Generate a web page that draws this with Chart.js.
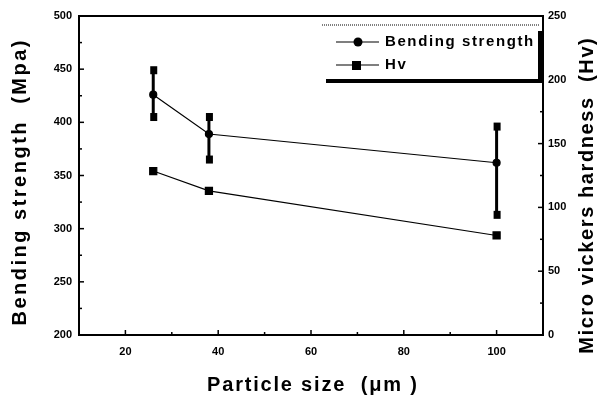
<!DOCTYPE html>
<html>
<head>
<meta charset="utf-8">
<script src="https://cdn.jsdelivr.net/npm/chart.js@4"></script>
<style>
  html, body { margin: 0; padding: 0; background: #fff; }
  #wrap { width: 597px; height: 401px; }
</style>
</head>
<body>
<div id="wrap"><canvas id="chart" width="597" height="401"></canvas></div>
<script>
// data
const particleSizes = [26, 38, 100];
const bendingStrength = [426, 389, 362];
const bendingHigh = [449, 405, 396];
const bendingLow = [405, 365, 313];
const hardnessHv = [128.5, 113, 78];

const xTicks = [20, 40, 60, 80, 100];
const yTicks = [200, 250, 300, 350, 400, 450, 500];
const y1Ticks = [0, 50, 100, 150, 200, 250];

const tickFont = { family: 'Liberation Sans', size: 11, weight: 'bold' };
const titleFont = 'bold 20px "Liberation Sans", Arial, sans-serif';

// draw text with extra letter spacing, centred on (cx, cy)
function spacedText(ctx, text, cx, cy, spacing) {
    ctx.letterSpacing = spacing + 'px';
    const w = ctx.measureText(text).width - spacing;
    ctx.textAlign = 'left';
    ctx.fillText(text, cx - w / 2, cy);
    ctx.letterSpacing = '0px';
}

// error bars, frame, inward ticks, legend and axis titles
const extras = {
    id: 'extras',
    afterDatasetsDraw(chart) {
        const ctx = chart.ctx;
        const x = chart.scales.x, y = chart.scales.y, y1 = chart.scales.y1;
        const a = chart.chartArea;
        ctx.save();
        ctx.fillStyle = '#000';
        ctx.strokeStyle = '#000';

        // error bars
        ctx.lineWidth = 3;
        particleSizes.forEach((s, i) => {
            const px = x.getPixelForValue(s);
            const top = y.getPixelForValue(bendingHigh[i]);
            const bot = y.getPixelForValue(bendingLow[i]);
            ctx.beginPath();
            ctx.moveTo(px, top);
            ctx.lineTo(px, bot);
            ctx.stroke();
            ctx.fillRect(px - 3, top - 4, 7, 8);
            ctx.fillRect(px - 3, bot - 4, 7, 8);
        });

        // top frame line
        ctx.lineWidth = 2;
        ctx.beginPath();
        ctx.moveTo(a.left, a.top);
        ctx.lineTo(a.right, a.top);
        ctx.stroke();

        // inward ticks
        ctx.lineWidth = 1.5;
        for (let v = 200; v <= 500; v += 25) {
            const py = y.getPixelForValue(v);
            const len = v % 50 === 0 ? 5 : 3;
            ctx.beginPath(); ctx.moveTo(a.left, py); ctx.lineTo(a.left + len, py); ctx.stroke();
        }
        for (let v = 0; v <= 250; v += 25) {
            const py = y1.getPixelForValue(v);
            const len = v % 50 === 0 ? 5 : 3;
            ctx.beginPath(); ctx.moveTo(a.right, py); ctx.lineTo(a.right - len, py); ctx.stroke();
        }
        for (let v = 20; v <= 100; v += 10) {
            const px = x.getPixelForValue(v);
            const len = v % 20 === 0 ? 5 : 3;
            ctx.beginPath(); ctx.moveTo(px, a.bottom); ctx.lineTo(px, a.bottom - len); ctx.stroke();
        }

        // legend box
        const lx = 322, ly = 25, lw = 218, lh = 56;
        ctx.lineWidth = 1;
        ctx.setLineDash([1, 1]);
        ctx.beginPath(); ctx.moveTo(lx, ly); ctx.lineTo(lx + lw, ly); ctx.stroke();
        ctx.setLineDash([]);
        ctx.lineWidth = 4;
        ctx.beginPath();
        ctx.moveTo(lx + 4, ly + lh);
        ctx.lineTo(lx + lw, ly + lh);
        ctx.lineTo(lx + lw, ly + 6);
        ctx.stroke();

        ctx.font = 'bold 15px "Liberation Sans", Arial, sans-serif';
        ctx.textBaseline = 'middle';
        ctx.textAlign = 'left';
        chart.data.datasets.forEach((ds, i) => {
            const ey = 42 + i * 23;
            ctx.lineWidth = 1.2;
            ctx.beginPath(); ctx.moveTo(336, ey); ctx.lineTo(379, ey); ctx.stroke();
            if (ds.pointStyle === 'rect') {
                ctx.fillRect(352, ey - 4, 9, 9);
            } else {
                ctx.beginPath(); ctx.arc(358, ey, 4.5, 0, Math.PI * 2); ctx.fill();
            }
            ctx.letterSpacing = '1.6px';
            ctx.fillText(ds.label, 385, ey);
            ctx.letterSpacing = '0px';
        });

        // axis titles
        ctx.font = titleFont;
        spacedText(ctx, 'Particle size  (\u03bcm )', 312, 385, 1.8);
        ctx.save();
        ctx.translate(20, 183);
        ctx.rotate(-Math.PI / 2);
        spacedText(ctx, 'Bending strength  (Mpa)', 0, 0, 2.5);
        ctx.restore();
        ctx.save();
        ctx.translate(587, 196);
        ctx.rotate(-Math.PI / 2);
        spacedText(ctx, 'Micro vickers hardness  (Hv)', 0, 0, 1.6);
        ctx.restore();

        ctx.restore();
    }
};

const chart = new Chart(document.getElementById('chart'), {
    type: 'line',
    data: {
        datasets: [{
            label: 'Bending strength',
            data: particleSizes.map((s, i) => ({ x: s, y: bendingStrength[i] })),
            yAxisID: 'y',
            borderColor: '#000',
            backgroundColor: '#000',
            borderWidth: 1.2,
            pointStyle: 'circle',
            pointRadius: 3.5,
            tension: 0
        }, {
            label: 'Hv',
            data: particleSizes.map((s, i) => ({ x: s, y: hardnessHv[i] })),
            yAxisID: 'y1',
            borderColor: '#000',
            backgroundColor: '#000',
            borderWidth: 1.2,
            pointStyle: 'rect',
            pointRadius: 5,
            tension: 0
        }]
    },
    options: {
        responsive: false,
        animation: false,
        layout: { padding: { top: 16, left: 0, right: 0, bottom: 0 } },
        plugins: { legend: { display: false }, tooltip: { enabled: false } },
        scales: {
            x: {
                type: 'linear',
                min: 10,
                max: 110,
                afterBuildTicks: s => { s.ticks = xTicks.map(v => ({ value: v })); },
                afterFit: s => { s.height = 66; },
                grid: { display: false, drawTicks: false },
                border: { display: true, color: '#000', width: 2 },
                ticks: { color: '#000', font: tickFont, padding: 10 }
            },
            y: {
                position: 'left',
                min: 200,
                max: 500,
                afterBuildTicks: s => { s.ticks = yTicks.map(v => ({ value: v })); },
                afterFit: s => { s.width = 79; },
                grid: { display: false, drawTicks: false },
                border: { display: true, color: '#000', width: 2 },
                ticks: { color: '#000', font: tickFont, padding: 7 }
            },
            y1: {
                position: 'right',
                min: 0,
                max: 250,
                afterBuildTicks: s => { s.ticks = y1Ticks.map(v => ({ value: v })); },
                afterFit: s => { s.width = 54; },
                grid: { display: false, drawTicks: false },
                border: { display: true, color: '#000', width: 2 },
                ticks: { color: '#000', font: tickFont, padding: 5 }
            }
        }
    },
    plugins: [extras]
});
</script>
</body>
</html>
